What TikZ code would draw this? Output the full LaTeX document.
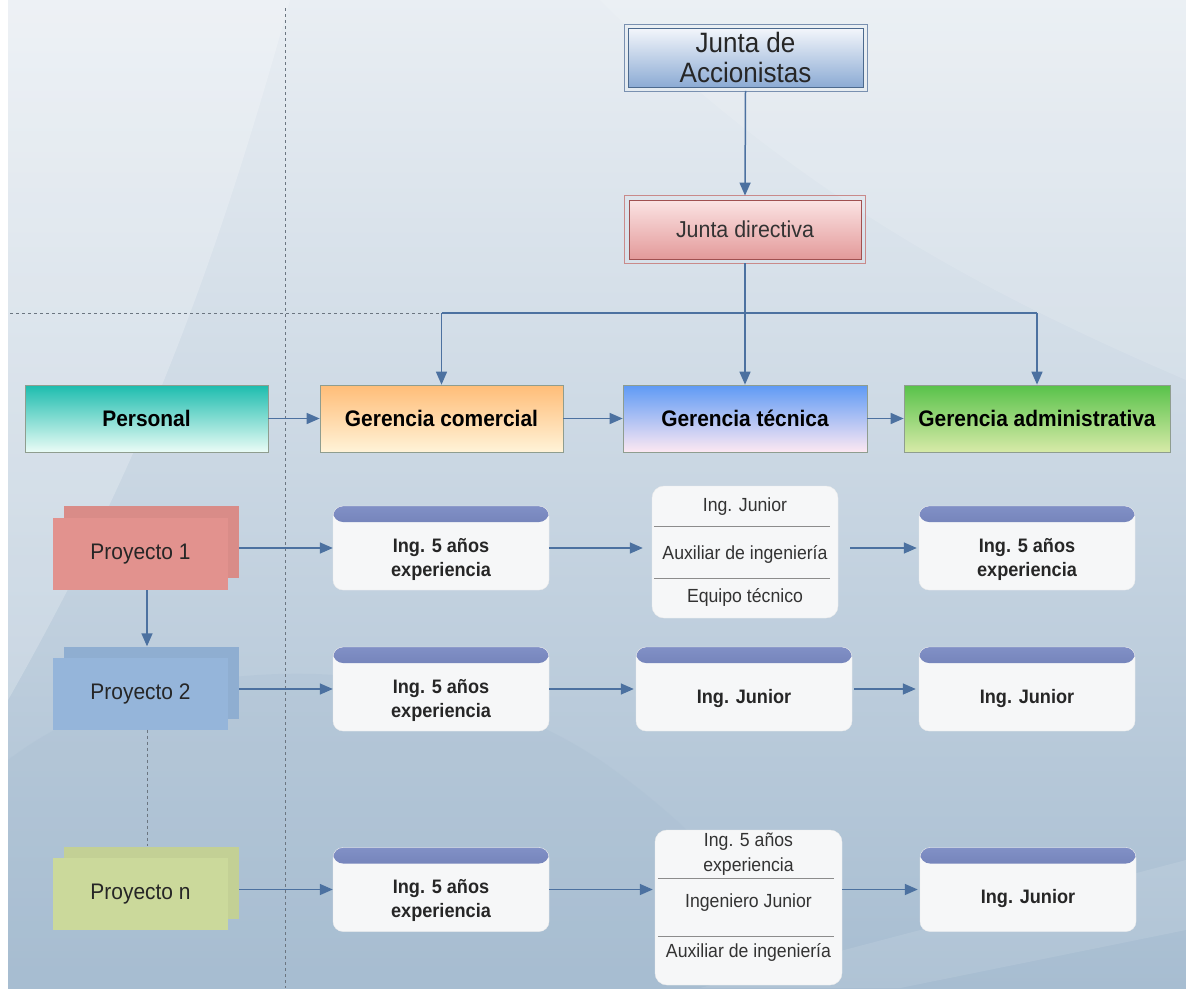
\documentclass[tikz,border=0pt]{standalone}
\usepackage{fontspec}
\setmainfont{Liberation Sans}[FakeStretch=0.93]
\usetikzlibrary{arrows.meta,calc}
\definecolor{bgtop}{HTML}{E9EEF3}
\definecolor{bgmid}{HTML}{CEDAE5}
\definecolor{bgbot}{HTML}{A7BDD1}
\definecolor{arrowc}{HTML}{4C71A0}
\definecolor{dashc}{HTML}{6B7580}
\definecolor{gborder}{HTML}{8F9D8F}
\definecolor{pet}{HTML}{1CBCAE}
\definecolor{peb}{HTML}{EAFCF6}
\definecolor{gct}{HTML}{FFBD78}
\definecolor{gcb}{HTML}{FFF3D8}
\definecolor{gtt}{HTML}{5E9AF5}
\definecolor{gtb}{HTML}{FDE8F2}
\definecolor{gat}{HTML}{58C24A}
\definecolor{gab}{HTML}{D7EAA8}
\definecolor{pone}{HTML}{E2928E}
\definecolor{ptwo}{HTML}{95B5DA}
\definecolor{pn}{HTML}{CBD99B}
\definecolor{wfill}{HTML}{F6F7F8}
\definecolor{bartop}{HTML}{8190C6}
\definecolor{barbot}{HTML}{46568F}
\definecolor{divc}{HTML}{8C8C8C}
\definecolor{jat}{HTML}{F3F6FB}
\definecolor{jab}{HTML}{8CABD4}
\definecolor{jain}{HTML}{4C6A8E}
\definecolor{jaout}{HTML}{7990B0}
\definecolor{jdt}{HTML}{FBE3E3}
\definecolor{jdb}{HTML}{E39A9A}
\definecolor{jdin}{HTML}{A05050}
\definecolor{jdout}{HTML}{C98A8A}
\tikzset{
  arr/.style={draw=arrowc, line width=1.5pt, -{Triangle[length=13pt,width=11pt]}},
  ln/.style={draw=arrowc, line width=1.5pt},
  dsh/.style={draw=dashc, line width=0.8pt, dash pattern=on 3pt off 3pt},
  gbox/.style={draw=gborder, line width=0.7pt, minimum height=67pt, inner sep=0pt,
    font=\fontsize{22.5}{26}\selectfont\bfseries, text=black},
  proj/.style={minimum width=175pt, minimum height=72pt, inner sep=0pt,
    font=\fontsize{22.5}{26}\selectfont, text=black!85},
  wbox/.style={fill=wfill, draw=white!85!gray, line width=0.4pt, rounded corners=10pt,
    minimum width=216pt, minimum height=84pt, inner sep=0pt,
    path picture={\shade[top color=bartop,bottom color=barbot]
      (path picture bounding box.north west) rectangle
      ([yshift=-16pt]path picture bounding box.north east);}},
  wtext/.style={font=\fontsize{19.5}{24}\selectfont\bfseries, align=center, text=black!85},
  stackbox/.style={fill=wfill, draw=white!85!gray, line width=0.4pt, rounded corners=12pt,
    inner sep=0pt},
  stext/.style={font=\fontsize{19}{25}\selectfont, align=center, text=black!80},
  divline/.style={draw=divc, line width=0.8pt},
}
\begin{document}
\begin{tikzpicture}[x=1pt,y=-1pt]
\useasboundingbox (0,0) rectangle (1186,996);
\fill[white] (0,0) rectangle (1186,996);
\shade[top color=bgtop, middle color=bgmid, bottom color=bgbot] (8,0) rectangle (1186,988);
% soft background swooshes
\fill[white,opacity=0.22] (8,0) -- (290,0) .. controls (220,250) and (150,450) .. (8,700) -- cycle;
\fill[white,opacity=0.12] (600,0) -- (1186,0) -- (1186,380) .. controls (1000,300) and (800,200) .. (600,0) -- cycle;
\fill[bgbot,opacity=0.25] (8,988) -- (8,760) .. controls (150,650) and (420,640) .. (600,760) .. controls (700,830) and (760,900) .. (800,988) -- cycle;
\fill[white,opacity=0.10] (700,988) -- (1186,860) -- (1186,930) -- (900,988) -- cycle;

% dashed guides
\coordinate (vt) at (285,8);
\coordinate (vb) at (285,988);
\draw[dsh] (vt) -- (vb);

% top boards
\node[draw=jain, line width=0.8pt, top color=jat, bottom color=jab, minimum width=235pt,
  minimum height=59pt, inner sep=0pt, align=center, font=\fontsize{28}{30}\selectfont,
  text=black!85] (ja) at (745.5,57.5) {Junta de\\Accionistas};
\draw[draw=jaout, line width=0.8pt] ([shift={(-3.5pt,3.5pt)}]ja.north west) rectangle ([shift={(3.5pt,-3.5pt)}]ja.south east);

\node[draw=jdin, line width=0.8pt, top color=jdt, bottom color=jdb, minimum width=232pt,
  minimum height=59pt, inner sep=0pt, font=\fontsize{23}{26}\selectfont,
  text=black!80] (jd) at (745,229.5) {Junta directiva};
\draw[draw=jdout, line width=0.8pt] ([shift={(-4pt,4pt)}]jd.north west) rectangle ([shift={(4pt,-4pt)}]jd.south east);

\draw[arr] ([yshift=-3.5pt]ja.south) -- ([yshift=4pt]jd.north);

% gerencias
\node[gbox, top color=pet, bottom color=peb, minimum width=243pt] (pe) at (146.5,418.5) {Personal};
\node[gbox, top color=gct, bottom color=gcb, minimum width=243pt] (gc) at (441.5,418.5) {Gerencia comercial};
\node[gbox, top color=gtt, bottom color=gtb, minimum width=244pt] (gt) at (745,418.5) {Gerencia técnica};
\node[gbox, top color=gat, bottom color=gab, minimum width=266pt] (ga) at (1037,418.5) {Gerencia administrativa};

\coordinate (busL) at (441.5,313);
\coordinate (busR) at (1037,313);
\coordinate (dl) at (10,313);
\draw[dsh] (dl) -- (busL);
\draw[ln] (busL) -- (busR);
\draw[ln] ([yshift=-4pt]jd.south) -- (jd.south |- busL);
\draw[arr] (busL) -- (gc.north);
\draw[arr] (jd.south |- busL) -- (gt.north);
\draw[arr] (busR) -- (ga.north);

\draw[arr] (pe.east) -- (gc.west);
\draw[arr] (gc.east) -- (gt.west);
\draw[arr] (gt.east) -- (ga.west);

% projects
\node[proj, fill=pone!96!black] (p1b) at (151.5,542) {};
\node[proj, fill=pone] (p1) at (140.5,554) {Proyecto 1};
\node[proj, fill=ptwo!96!black] (p2b) at (151.5,682.5) {};
\node[proj, fill=ptwo] (p2) at (140.5,693.5) {Proyecto 2};
\node[proj, fill=pn!96!black] (pnb) at (151.5,882.5) {};
\node[proj, fill=pn] (pnn) at (140.5,894) {Proyecto n};

\draw[arr] ([xshift=6.5pt]p1.south) -- ([xshift=6.5pt]p1.south |- p2b.north);
\draw[dsh] ([xshift=6.5pt]p2.south) -- ([xshift=6.5pt]p2.south |- pnb.north);

% row 1
\node[wbox] (r1a) at (441,548) {};
\node[wtext] (r1at) at ([yshift=-11pt]r1a.center) {Ing. 5 años\\experiencia};
\node[stackbox, minimum width=186pt, minimum height=132pt] (r1b) at (745,552) {};
\node[stext] (r1b1) at (745,507) {Ing. Junior};
\node[stext] (r1b2) at (745,554) {Auxiliar de ingeniería};
\node[stext] (r1b3) at (745,597) {Equipo técnico};
\draw[divline] ($(r1b.north west)+(2,41)$) -- ($(r1b.north east)+(-8,41)$);
\draw[divline] ($(r1b.north west)+(2,93)$) -- ($(r1b.north east)+(-8,93)$);
\node[wbox] (r1c) at (1027,548) {};
\node[wtext] (r1ct) at ([yshift=-11pt]r1c.center) {Ing. 5 años\\experiencia};

\draw[arr] (p1b.east |- r1a.west) -- (r1a.west);
\draw[arr, shorten >=9pt] (r1a.east) -- (r1a.east -| r1b.west);
\draw[arr, shorten <=12pt, shorten >=2pt] (r1c.west -| r1b.east) -- (r1c.west);

% row 2
\node[wbox] (r2a) at (441,689) {};
\node[wtext] (r2at) at ([yshift=-11pt]r2a.center) {Ing. 5 años\\experiencia};
\node[wbox] (r2b) at (744,689) {};
\node[wtext] (r2bt) at ([yshift=-9pt]r2b.center) {Ing. Junior};
\node[wbox] (r2c) at (1027,689) {};
\node[wtext] (r2ct) at ([yshift=-9pt]r2c.center) {Ing. Junior};

\draw[arr] (p2b.east |- r2a.west) -- (r2a.west);
\draw[arr, shorten >=2pt] (r2a.east) -- (r2b.west);
\draw[arr, shorten <=2pt, shorten >=3pt] (r2b.east) -- (r2c.west);

% row n
\node[wbox] (rna) at (441,889.5) {};
\node[wtext] (rnat) at ([yshift=-11pt]rna.center) {Ing. 5 años\\experiencia};
\node[stackbox, minimum width=187pt, minimum height=155pt] (rnb) at (748.5,907.5) {};
\node[stext] (rnb1) at (748.5,854.5) {Ing. 5 años\\experiencia};
\node[stext] (rnb2) at (748.5,903) {Ingeniero Junior};
\node[stext] (rnb3) at (748.5,952) {Auxiliar de ingeniería};
\draw[divline] ($(rnb.north west)+(3,49)$) -- ($(rnb.north east)+(-8,49)$);
\draw[divline] ($(rnb.north west)+(3,107)$) -- ($(rnb.north east)+(-8,107)$);
\node[wbox] (rnc) at (1028,889.5) {};
\node[wtext] (rnct) at ([yshift=-9pt]rnc.center) {Ing. Junior};

\draw[arr] (pnb.east |- rna.west) -- (rna.west);
\draw[arr, shorten >=2pt] (rna.east) -- (rna.east -| rnb.west);
\draw[arr, shorten >=2pt] (rnc.west -| rnb.east) -- (rnc.west);
\end{tikzpicture}
\end{document}
